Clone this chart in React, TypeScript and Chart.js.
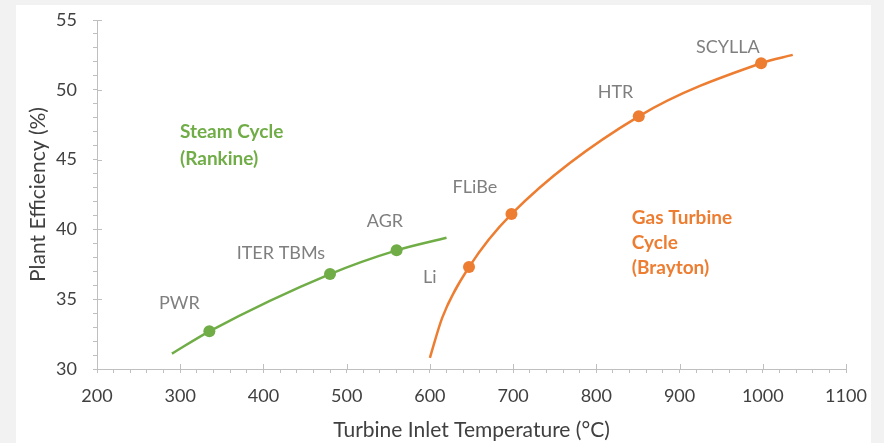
import React, { useEffect, useRef } from "react";
import { Chart, registerables } from "chart.js";

Chart.register(...registerables);

// Steam cycle (Rankine) curve
const steamX = [290, 335, 480, 560, 620];
const steamY = [31.1, 32.7, 36.8, 38.5, 39.4];
const steamMarked = [false, true, true, true, false];

// Gas turbine cycle (Brayton) curve
const gasX = [600, 615, 647, 698, 851, 998, 1036];
const gasY = [30.8, 33.7, 37.3, 41.1, 48.1, 51.9, 52.5];
const gasMarked = [false, false, true, true, true, true, false];

// Point labels (centre position in data units)
const pointLabels = ["PWR", "ITER TBMs", "AGR", "Li", "FLiBe", "HTR", "SCYLLA"];
const pointLabelX = [299, 421, 546, 600, 654, 823, 958];
const pointLabelY = [34.7, 38.3, 40.6, 36.6, 43.0, 49.85, 53.05];

// Region labels
const steamTitle = ["Steam Cycle", "(Rankine)"];
const gasTitle = ["Gas Turbine", "Cycle", "(Brayton)"];
const steamTitlePos = [299.7, 46.98];
const gasTitlePos = [842.6, 40.84];

const xTitle = "Turbine Inlet Temperature (°C)";
const yTitle = "Plant Efficiency (%)";

const GREEN = "#70ad47";
const ORANGE = "#ed7d31";
const AXIS = "#bfbfbf";
const FONT = "Lato";

const overlay = {
  id: "overlay",
  afterDraw(chart: any) {
    const { ctx, scales, chartArea } = chart;
    const xs = scales.x;
    const ys = scales.y;
    ctx.save();
    // inside part of major ticks (cross ticks)
    ctx.strokeStyle = AXIS;
    ctx.lineWidth = 1;
    ctx.beginPath();
    for (let v = 200; v <= 1100; v += 100) {
      const px = Math.round(xs.getPixelForValue(v)) + 0.5;
      ctx.moveTo(px, chartArea.bottom);
      ctx.lineTo(px, chartArea.bottom - 5);
    }
    for (let v = 30; v <= 55; v += 5) {
      const py = Math.round(ys.getPixelForValue(v)) + 0.5;
      ctx.moveTo(chartArea.left, py);
      ctx.lineTo(chartArea.left + 5, py);
    }
    ctx.stroke();

    // point labels
    ctx.fillStyle = "#7f7f7f";
    ctx.font = `18px ${FONT}`;
    ctx.textAlign = "center";
    ctx.textBaseline = "middle";
    pointLabels.forEach((t, i) => {
      ctx.fillText(t, xs.getPixelForValue(pointLabelX[i]), ys.getPixelForValue(pointLabelY[i]));
    });

    // region labels
    ctx.font = `bold 19px ${FONT}`;
    ctx.textAlign = "left";
    ctx.fillStyle = GREEN;
    steamTitle.forEach((t, i) => {
      ctx.fillText(t, xs.getPixelForValue(steamTitlePos[0]), ys.getPixelForValue(steamTitlePos[1]) + i * 27);
    });
    ctx.fillStyle = ORANGE;
    gasTitle.forEach((t, i) => {
      ctx.fillText(t, xs.getPixelForValue(gasTitlePos[0]), ys.getPixelForValue(gasTitlePos[1]) + i * 25);
    });

    // axis titles
    ctx.fillStyle = "#404040";
    ctx.font = `21px ${FONT}`;
    ctx.textAlign = "center";
    ctx.fillText(xTitle, (chartArea.left + chartArea.right) / 2, chartArea.bottom + 61);
    ctx.translate(22, (chartArea.top + chartArea.bottom) / 2);
    ctx.rotate(-Math.PI / 2);
    ctx.fillText(yTitle, 0, 0);
    ctx.restore();
  },
};

export default function App() {
  const ref = useRef<HTMLCanvasElement>(null);
  useEffect(() => {
    if (!ref.current) return;
    const mk = (xv: number[], yv: number[]) => xv.map((x, i) => ({ x, y: yv[i] }));
    const chart = new Chart(ref.current, {
      type: "line",
      data: {
        datasets: [
          {
            data: mk(steamX, steamY),
            borderColor: GREEN,
            backgroundColor: GREEN,
            borderWidth: 2.5,
            cubicInterpolationMode: "monotone",
            pointRadius: steamMarked.map((m) => (m ? 6 : 0)),
            pointBorderWidth: 0,
            fill: false,
          },
          {
            data: mk(gasX, gasY),
            borderColor: ORANGE,
            backgroundColor: ORANGE,
            borderWidth: 2.5,
            cubicInterpolationMode: "monotone",
            pointRadius: gasMarked.map((m) => (m ? 6 : 0)),
            pointBorderWidth: 0,
            fill: false,
          },
        ],
      },
      options: {
        animation: false,
        responsive: false,
        maintainAspectRatio: false,
        layout: { padding: { left: 0, right: 25, top: 15, bottom: 0 } },
        plugins: { legend: { display: false }, tooltip: { enabled: false } },
        scales: {
          x: {
            type: "linear",
            min: 200,
            max: 1100,
            afterFit: (s: any) => {
              s.height = 74;
              s.paddingLeft = 0;
              s.paddingRight = 0;
            },
            grid: { display: true, drawOnChartArea: false, drawTicks: true, tickLength: 4, color: AXIS },
            border: { display: true, color: AXIS },
            ticks: {
              stepSize: 20,
              autoSkip: false,
              maxRotation: 0,
              padding: 12,
              color: "#404040",
              font: { family: FONT, size: 18 },
              callback: (v: any) => (Number(v) % 100 === 0 ? String(v) : ""),
            },
          },
          y: {
            type: "linear",
            min: 30,
            max: 55,
            afterFit: (s: any) => {
              s.width = 81;
              s.paddingTop = 0;
              s.paddingBottom = 0;
            },
            grid: { display: true, drawOnChartArea: false, drawTicks: true, tickLength: 4, color: AXIS },
            border: { display: true, color: AXIS },
            ticks: {
              stepSize: 1,
              autoSkip: false,
              padding: 16,
              color: "#404040",
              font: { family: FONT, size: 18 },
              callback: (v: any) => (Number(v) % 5 === 0 ? String(v) : ""),
            },
          },
        },
      },
      plugins: [overlay],
    } as any);
    return () => chart.destroy();
  }, []);

  return (
    <div style={{ position: "fixed", left: 0, top: 0, width: 884, height: 443, background: "#f2f2f2", overflow: "hidden" }}>
      <div style={{ position: "absolute", left: 16, top: 5, width: 855, height: 438, background: "#ffffff" }}>
        <canvas ref={ref} width={855} height={438} style={{ display: "block" }} />
      </div>
    </div>
  );
}
